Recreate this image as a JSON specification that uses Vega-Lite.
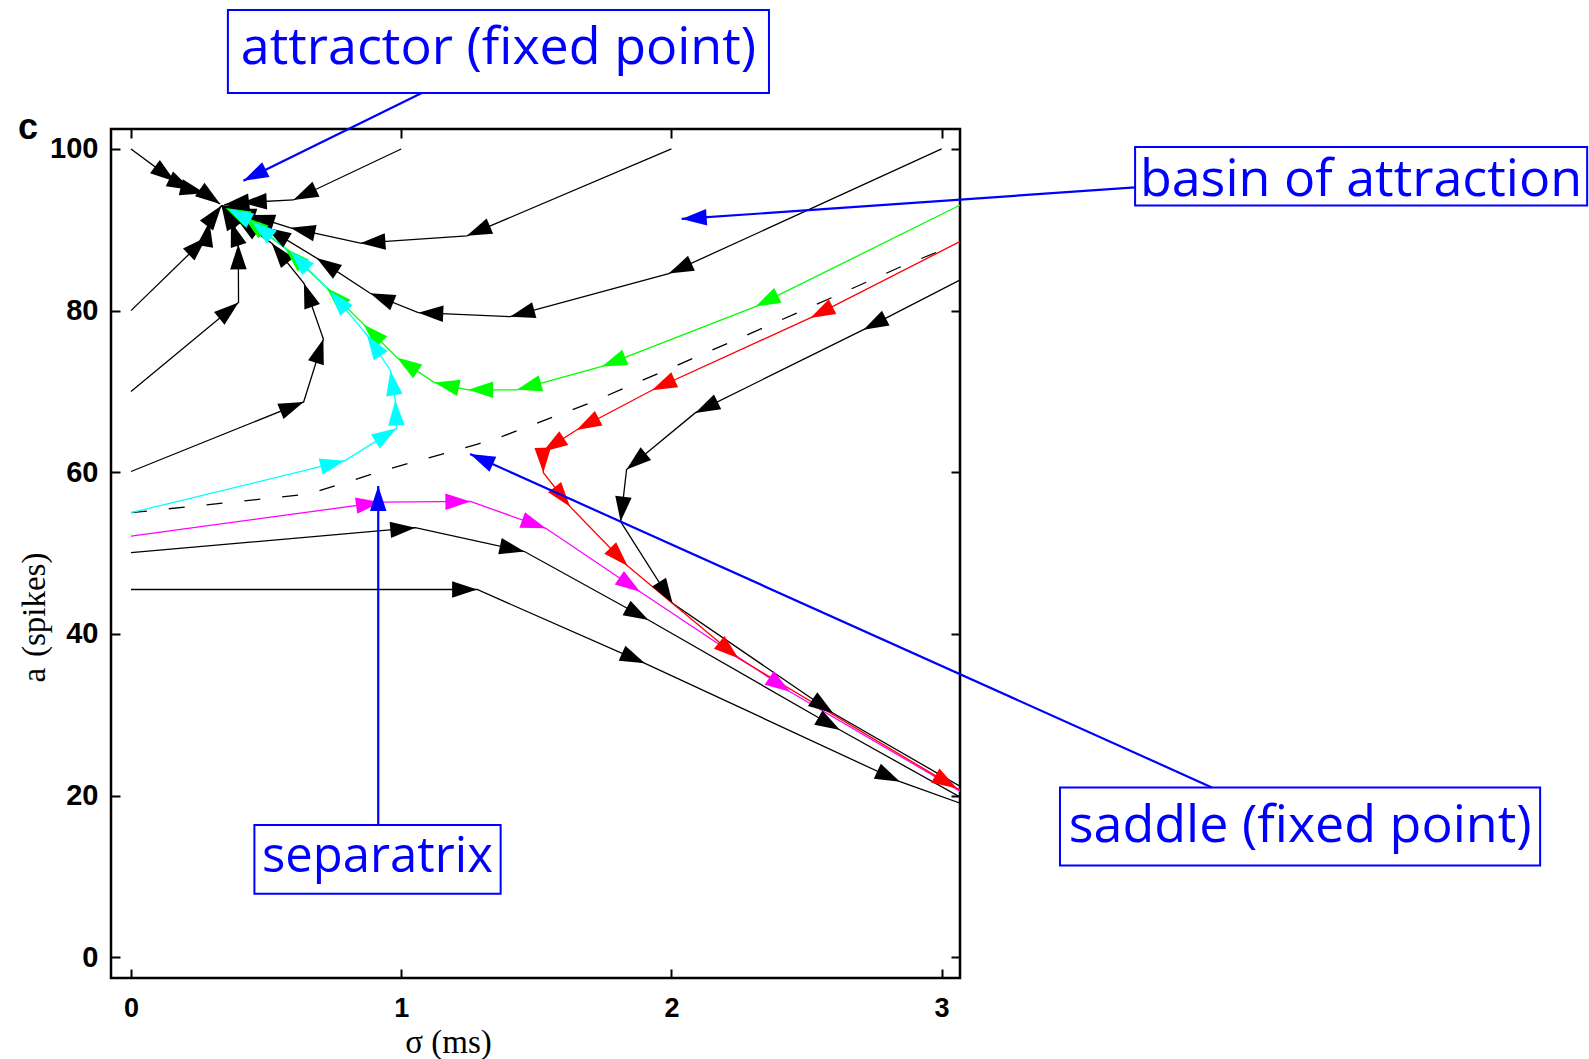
{
  "$schema": "https://vega.github.io/schema/vega-lite/v6.json",
  "width": 849,
  "height": 849,
  "autosize": {"type": "none"},
  "padding": {"left": 111, "top": 129, "right": 629, "bottom": 81},
  "background": "white",
  "config": {"view": {"stroke": "black", "strokeWidth": 2.5}},
  "datasets": {
    "traj": [
      {"id":"a","i":0,"x":0,"y":100,"c":"k"},{"id":"a","i":1,"x":0.163,"y":95.96,"c":"k"},{"id":"a","i":2,"x":0.225,"y":94.93,"c":"k"},{"id":"a","i":3,"x":0.274,"y":94.52,"c":"k"},{"id":"a","i":4,"x":0.33,"y":93.2,"c":"k"},
      {"id":"b","i":0,"x":1,"y":100,"c":"k"},{"id":"b","i":1,"x":0.601,"y":93.69,"c":"k"},{"id":"b","i":2,"x":0.41,"y":93.36,"c":"k"},{"id":"b","i":3,"x":0.345,"y":93.1,"c":"k"},
      {"id":"c","i":0,"x":2,"y":100,"c":"k"},{"id":"c","i":1,"x":1.243,"y":89.25,"c":"k"},{"id":"c","i":2,"x":0.849,"y":88.35,"c":"k"},{"id":"c","i":3,"x":0.59,"y":90.25,"c":"k"},{"id":"c","i":4,"x":0.44,"y":91.83,"c":"k"},{"id":"c","i":5,"x":0.37,"y":92.6,"c":"k"},{"id":"c","i":6,"x":0.335,"y":93.0,"c":"k"},
      {"id":"d","i":0,"x":3,"y":100,"c":"k"},{"id":"d","i":1,"x":1.99,"y":84.58,"c":"k"},{"id":"d","i":2,"x":1.403,"y":79.25,"c":"k"},{"id":"d","i":3,"x":1.063,"y":79.75,"c":"k"},{"id":"d","i":4,"x":0.885,"y":82.15,"c":"k"},{"id":"d","i":5,"x":0.687,"y":86.5,"c":"k"},{"id":"d","i":6,"x":0.5,"y":90.3,"c":"k"},{"id":"d","i":7,"x":0.39,"y":92.1,"c":"k"},{"id":"d","i":8,"x":0.335,"y":93.0,"c":"k"},
      {"id":"g","i":0,"x":3.3,"y":87.8,"c":"k"},{"id":"g","i":1,"x":2.711,"y":77.65,"c":"k"},{"id":"g","i":2,"x":2.088,"y":67.35,"c":"k"},{"id":"g","i":3,"x":1.834,"y":60.35,"c":"k"},{"id":"g","i":4,"x":1.812,"y":53.9,"c":"k"},{"id":"g","i":5,"x":2.004,"y":43.8,"c":"k"},{"id":"g","i":6,"x":2.599,"y":30.19,"c":"k"},{"id":"g","i":7,"x":3.3,"y":16.7,"c":"k"},
      {"id":"i","i":0,"x":0,"y":50.07,"c":"k"},{"id":"i","i":1,"x":1.052,"y":53.15,"c":"k"},{"id":"i","i":2,"x":1.456,"y":50.2,"c":"k"},{"id":"i","i":3,"x":1.915,"y":41.73,"c":"k"},{"id":"i","i":4,"x":2.624,"y":28.12,"c":"k"},{"id":"i","i":5,"x":3.3,"y":15.5,"c":"k"},
      {"id":"j","i":0,"x":0,"y":45.5,"c":"k"},{"id":"j","i":1,"x":1.281,"y":45.5,"c":"k"},{"id":"j","i":2,"x":1.902,"y":36.37,"c":"k"},{"id":"j","i":3,"x":2.846,"y":21.72,"c":"k"},{"id":"j","i":4,"x":3.3,"y":16.3,"c":"k"},
      {"id":"l","i":0,"x":0,"y":60.1,"c":"k"},{"id":"l","i":1,"x":0.639,"y":68.7,"c":"k"},{"id":"l","i":2,"x":0.712,"y":76.5,"c":"k"},{"id":"l","i":3,"x":0.64,"y":83.39,"c":"k"},{"id":"l","i":4,"x":0.521,"y":88.33,"c":"k"},{"id":"l","i":5,"x":0.39,"y":91.4,"c":"k"},{"id":"l","i":6,"x":0.335,"y":93.0,"c":"k"},
      {"id":"m","i":0,"x":0,"y":70,"c":"k"},{"id":"m","i":1,"x":0.398,"y":81.0,"c":"k"},{"id":"m","i":2,"x":0.397,"y":88.2,"c":"k"},{"id":"m","i":3,"x":0.37,"y":91.0,"c":"k"},{"id":"m","i":4,"x":0.335,"y":93.0,"c":"k"},
      {"id":"n","i":0,"x":0,"y":80,"c":"k"},{"id":"n","i":1,"x":0.28,"y":89.1,"c":"k"},{"id":"n","i":2,"x":0.29,"y":91.0,"c":"k"},{"id":"n","i":3,"x":0.335,"y":93.0,"c":"k"},
      {"id":"e","i":0,"x":3.3,"y":96.9,"c":"g"},{"id":"e","i":1,"x":2.311,"y":80.5,"c":"g"},{"id":"e","i":2,"x":1.743,"y":73.1,"c":"g"},{"id":"e","i":3,"x":1.428,"y":70.2,"c":"g"},{"id":"e","i":4,"x":1.248,"y":70.2,"c":"g"},{"id":"e","i":5,"x":1.123,"y":71.1,"c":"g"},{"id":"e","i":6,"x":0.984,"y":74.2,"c":"g"},{"id":"e","i":7,"x":0.861,"y":78.3,"c":"g"},{"id":"e","i":8,"x":0.725,"y":82.8,"c":"g"},{"id":"e","i":9,"x":0.571,"y":87.7,"c":"g"},{"id":"e","i":10,"x":0.417,"y":91.6,"c":"g"},{"id":"e","i":11,"x":0.35,"y":92.7,"c":"g"},
      {"id":"h","i":0,"x":0,"y":52.1,"c":"m"},{"id":"h","i":1,"x":0.925,"y":56.3,"c":"m"},{"id":"h","i":2,"x":1.256,"y":56.4,"c":"m"},{"id":"h","i":3,"x":1.535,"y":53.07,"c":"m"},{"id":"h","i":4,"x":1.884,"y":45.23,"c":"m"},{"id":"h","i":5,"x":2.439,"y":32.86,"c":"m"},{"id":"h","i":6,"x":3.3,"y":16.0,"c":"m"},
      {"id":"k","i":0,"x":0,"y":55,"c":"c"},{"id":"k","i":1,"x":0.792,"y":61.44,"c":"c"},{"id":"k","i":2,"x":0.983,"y":65.44,"c":"c"},{"id":"k","i":3,"x":0.978,"y":68.9,"c":"c"},{"id":"k","i":4,"x":0.96,"y":72.6,"c":"c"},{"id":"k","i":5,"x":0.873,"y":77.0,"c":"c"},{"id":"k","i":6,"x":0.738,"y":82.4,"c":"c"},{"id":"k","i":7,"x":0.59,"y":87.3,"c":"c"},{"id":"k","i":8,"x":0.448,"y":91.0,"c":"c"},{"id":"k","i":9,"x":0.36,"y":92.6,"c":"c"},
      {"id":"f","i":0,"x":3.3,"y":92.5,"c":"r"},{"id":"f","i":1,"x":2.514,"y":79.1,"c":"r"},{"id":"f","i":2,"x":1.928,"y":70.15,"c":"r"},{"id":"f","i":3,"x":1.649,"y":65.24,"c":"r"},{"id":"f","i":4,"x":1.524,"y":62.55,"c":"r"},{"id":"f","i":5,"x":1.526,"y":59.95,"c":"r"},{"id":"f","i":6,"x":1.625,"y":55.75,"c":"r"},{"id":"f","i":7,"x":1.838,"y":48.4,"c":"r"},{"id":"f","i":8,"x":2.248,"y":36.99,"c":"r"},{"id":"f","i":9,"x":3.056,"y":20.9,"c":"r"},{"id":"f","i":10,"x":3.3,"y":17.2,"c":"r"}
    ],
    "sep": [
      {"i":0,"x":0,"y":55},{"i":1,"x":0.657,"y":57.3},{"i":2,"x":0.947,"y":60.35},{"i":3,"x":1.28,"y":63.45},{"i":4,"x":1.379,"y":64.5},{"i":5,"x":1.7,"y":68.6},{"i":6,"x":1.984,"y":72.7},{"i":7,"x":2.28,"y":77.0},{"i":8,"x":2.576,"y":81.35},{"i":9,"x":2.847,"y":85.4},{"i":10,"x":2.995,"y":87.4}
    ],
    "boxes": [
      {"label":"attractor (fixed point)","x1":0.3586,"x2":2.361,"y1":117.2,"y2":106.93,"tx":1.36,"ty":110.5},
      {"label":"basin of attraction","x1":3.716,"x2":5.389,"y1":100.25,"y2":93.0,"tx":4.552,"ty":94.2},
      {"label":"saddle (fixed point)","x1":3.438,"x2":5.215,"y1":21.02,"y2":11.37,"tx":4.327,"ty":14.3},
      {"label":"separatrix","x1":0.4567,"x2":1.368,"y1":16.37,"y2":7.86,"tx":0.912,"ty":10.5}
    ],
    "arrows": [
      {"x":1.076,"y":106.93,"x2":0.416,"y2":96.08},
      {"x":3.716,"y":95.24,"x2":2.038,"y2":91.34},
      {"x":4.0,"y":21.02,"x2":1.255,"y2":62.27},
      {"x":0.915,"y":16.37,"x2":0.915,"y2":58.31}
    ],
    "panel": [{"label":"c","x":-0.381,"y":102.6}],
    "ytitle": [
      {"label":"a","x":-0.318,"y":34.9,"it":"italic"},
      {"label":"(spikes)","x":-0.318,"y":43.6,"it":"normal"}
    ]
  },
  "layer": [
    {
      "data": {"name": "sep"},
      "mark": {"type": "line", "color": "black", "strokeWidth": 1.3, "strokeDash": [16, 22], "clip": true},
      "encoding": {
        "x": {"field": "x", "type": "quantitative", "scale": {"domain": [-0.074, 3.068], "nice": false, "zero": false},
          "axis": {"orient": "bottom", "values": [0, 1, 2, 3], "format": "d", "tickSize": -9, "tickWidth": 2, "tickColor": "black", "domain": false, "grid": false,
            "labelFont": "Liberation Sans", "labelFontWeight": "bold", "labelFontSize": 27, "labelColor": "black", "labelPadding": 26, "labelFlush": false,
            "title": "σ  (ms)", "titleFont": "Liberation Serif", "titleFontSize": 33, "titleFontWeight": "normal", "titleColor": "black",
            "titleX": 337, "titleY": 74, "titleBaseline": "alphabetic", "titleAlign": "center"}},
        "y": {"field": "y", "type": "quantitative", "scale": {"domain": [-2.56, 102.47], "nice": false, "zero": false},
          "axis": {"orient": "left", "values": [0, 20, 40, 60, 80, 100], "format": "d", "tickSize": -9, "tickWidth": 2, "tickColor": "black", "domain": false, "grid": false,
            "labelFont": "Liberation Sans", "labelFontWeight": "bold", "labelFontSize": 29, "labelColor": "black", "labelPadding": 22, "labelFlush": false,
            "title": null}},
        "order": {"field": "i", "type": "quantitative"}
      }
    },
    {
      "data": {"name": "traj"},
      "mark": {"type": "line", "strokeWidth": 1.3, "clip": true},
      "encoding": {
        "x": {"field": "x", "type": "quantitative", "scale": {"domain": [-0.074, 3.068], "nice": false, "zero": false},
          "axis": {"orient": "top", "values": [0, 1, 2, 3], "tickSize": -9, "tickWidth": 2, "tickColor": "black", "domain": false, "grid": false, "labels": false, "title": null}},
        "y": {"field": "y", "type": "quantitative", "scale": {"domain": [-2.56, 102.47], "nice": false, "zero": false},
          "axis": {"orient": "right", "values": [0, 20, 40, 60, 80, 100], "tickSize": -9, "tickWidth": 2, "tickColor": "black", "domain": false, "grid": false, "labels": false, "title": null}},
        "color": {"field": "c", "type": "nominal", "scale": {"domain": ["k", "g", "r", "c", "m"], "range": ["#000000", "#00ff00", "#ff0000", "#00ffff", "#ff00ff"]}, "legend": null},
        "detail": {"field": "id", "type": "nominal"},
        "order": {"field": "i", "type": "quantitative"}
      }
    },
    {
      "data": {"name": "traj"},
      "transform": [
        {"window": [{"op": "lag", "field": "x", "as": "px"}, {"op": "lag", "field": "y", "as": "py"}], "groupby": ["id"], "sort": [{"field": "i", "order": "ascending"}]},
        {"filter": "datum.px != null"},
        {"calculate": "atan2((datum.x - datum.px) * 270.2, (datum.y - datum.py) * 8.083) * 180 / PI", "as": "ang"}
      ],
      "mark": {"type": "point", "shape": "M0,0L-0.33,1L0.33,1Z", "filled": true, "size": 2500, "opacity": 1, "strokeWidth": 0, "clip": true},
      "encoding": {
        "x": {"field": "x", "type": "quantitative", "scale": {"domain": [-0.074, 3.068], "nice": false, "zero": false}, "axis": null},
        "y": {"field": "y", "type": "quantitative", "scale": {"domain": [-2.56, 102.47], "nice": false, "zero": false}, "axis": null},
        "color": {"field": "c", "type": "nominal", "scale": {"domain": ["k", "g", "r", "c", "m"], "range": ["#000000", "#00ff00", "#ff0000", "#00ffff", "#ff00ff"]}, "legend": null},
        "angle": {"field": "ang", "type": "quantitative", "scale": null}
      }
    },
    {
      "data": {"name": "boxes"},
      "mark": {"type": "rect", "fill": "white", "stroke": "#0000ff", "strokeWidth": 2},
      "encoding": {
        "x": {"field": "x1", "type": "quantitative", "scale": {"domain": [-0.074, 3.068], "nice": false, "zero": false}, "axis": null},
        "x2": {"field": "x2"},
        "y": {"field": "y1", "type": "quantitative", "scale": {"domain": [-2.56, 102.47], "nice": false, "zero": false}, "axis": null},
        "y2": {"field": "y2"}
      }
    },
    {
      "data": {"name": "boxes"},
      "transform": [{"filter": "datum.label != 'separatrix'"}],
      "mark": {"type": "text", "font": "Open Sans", "fontSize": 52, "color": "#0000ff", "align": "center", "baseline": "alphabetic"},
      "encoding": {
        "x": {"field": "tx", "type": "quantitative", "scale": {"domain": [-0.074, 3.068], "nice": false, "zero": false}, "axis": null},
        "y": {"field": "ty", "type": "quantitative", "scale": {"domain": [-2.56, 102.47], "nice": false, "zero": false}, "axis": null},
        "text": {"field": "label", "type": "nominal"}
      }
    },
    {
      "data": {"name": "boxes"},
      "transform": [{"filter": "datum.label == 'separatrix'"}],
      "mark": {"type": "text", "font": "Open Sans", "fontSize": 49, "color": "#0000ff", "align": "center", "baseline": "alphabetic"},
      "encoding": {
        "x": {"field": "tx", "type": "quantitative", "scale": {"domain": [-0.074, 3.068], "nice": false, "zero": false}, "axis": null},
        "y": {"field": "ty", "type": "quantitative", "scale": {"domain": [-2.56, 102.47], "nice": false, "zero": false}, "axis": null},
        "text": {"field": "label", "type": "nominal"}
      }
    },
    {
      "data": {"name": "arrows"},
      "mark": {"type": "rule", "color": "#0000ff", "strokeWidth": 2.2},
      "encoding": {
        "x": {"field": "x", "type": "quantitative", "scale": {"domain": [-0.074, 3.068], "nice": false, "zero": false}, "axis": null},
        "y": {"field": "y", "type": "quantitative", "scale": {"domain": [-2.56, 102.47], "nice": false, "zero": false}, "axis": null},
        "x2": {"field": "x2"},
        "y2": {"field": "y2"}
      }
    },
    {
      "data": {"name": "arrows"},
      "transform": [
        {"calculate": "atan2((datum.x2 - datum.x) * 270.2, (datum.y2 - datum.y) * 8.083) * 180 / PI", "as": "ang"}
      ],
      "mark": {"type": "point", "shape": "M0,0L-0.33,1L0.33,1Z", "filled": true, "size": 2500, "opacity": 1, "strokeWidth": 0, "color": "#0000ff"},
      "encoding": {
        "x": {"field": "x2", "type": "quantitative", "scale": {"domain": [-0.074, 3.068], "nice": false, "zero": false}, "axis": null},
        "y": {"field": "y2", "type": "quantitative", "scale": {"domain": [-2.56, 102.47], "nice": false, "zero": false}, "axis": null},
        "angle": {"field": "ang", "type": "quantitative", "scale": null}
      }
    },
    {
      "data": {"name": "panel"},
      "mark": {"type": "text", "font": "Liberation Sans", "fontWeight": "bold", "fontSize": 36, "color": "black", "align": "center", "baseline": "middle"},
      "encoding": {
        "x": {"field": "x", "type": "quantitative", "scale": {"domain": [-0.074, 3.068], "nice": false, "zero": false}, "axis": null},
        "y": {"field": "y", "type": "quantitative", "scale": {"domain": [-2.56, 102.47], "nice": false, "zero": false}, "axis": null},
        "text": {"field": "label", "type": "nominal"}
      }
    },
    {
      "data": {"name": "ytitle"},
      "mark": {"type": "text", "font": "Liberation Serif", "fontSize": 33, "color": "black", "align": "center", "baseline": "alphabetic", "angle": 270},
      "encoding": {
        "x": {"field": "x", "type": "quantitative", "scale": {"domain": [-0.074, 3.068], "nice": false, "zero": false}, "axis": null},
        "y": {"field": "y", "type": "quantitative", "scale": {"domain": [-2.56, 102.47], "nice": false, "zero": false}, "axis": null},
        "text": {"field": "label", "type": "nominal"},
        "fontStyle": {"field": "it", "type": "nominal", "scale": null}
      }
    }
  ],
  "resolve": {"axis": {"x": "independent", "y": "independent"}}
}
